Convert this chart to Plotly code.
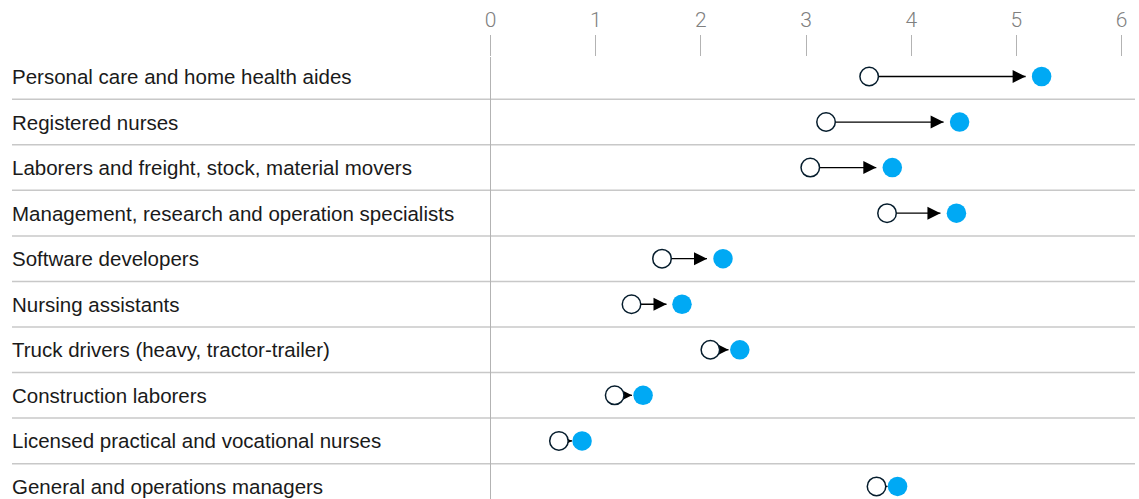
import plotly.graph_objects as go

categories = [
    "Personal care and home health aides",
    "Registered nurses",
    "Laborers and freight, stock, material movers",
    "Management, research and operation specialists",
    "Software developers",
    "Nursing assistants",
    "Truck drivers (heavy, tractor-trailer)",
    "Construction laborers",
    "Licensed practical and vocational nurses",
    "General and operations managers",
]
start_values = [3.60, 3.19, 3.04, 3.77, 1.63, 1.34, 2.09, 1.18, 0.65, 3.67]
end_values = [5.24, 4.46, 3.82, 4.43, 2.21, 1.82, 2.37, 1.45, 0.87, 3.87]
tick_values = [0, 1, 2, 3, 4, 5, 6]
tick_labels = ["0", "1", "2", "3", "4", "5", "6"]

W, H = 1139, 499
TOP = 57
DOM0 = 480
X_RANGE = [-0.1008, 6.166]
Y_RANGE = [9.276, -0.428]
K = (W - DOM0) / (X_RANGE[1] - X_RANGE[0])  # px per unit

rows = list(range(len(categories)))

# arrow geometry derived from the data
line_x, line_y, tip_x = [], [], []
for i, (s, e) in enumerate(zip(start_values, end_values)):
    sep_px = (e - s) * K
    gap_px = 10 + min(6, max(0, (sep_px - 23) * 0.2))
    tip = e - gap_px / K
    tip_x.append(tip)
    line_x += [s, tip, None]
    line_y += [i, i, None]

fig = go.Figure()
fig.add_trace(go.Scatter(x=line_x, y=line_y, mode="lines",
                         line=dict(color="#000000", width=1.3),
                         hoverinfo="skip", showlegend=False))
fig.add_trace(go.Scatter(x=tip_x, y=rows, mode="markers",
                         marker=dict(symbol="arrow-right", size=13, color="#000000",
                                     line=dict(width=0)),
                         hoverinfo="skip", showlegend=False))
fig.add_trace(go.Scatter(x=start_values, y=rows, mode="markers",
                         marker=dict(symbol="circle", size=18.5, color="#ffffff",
                                     line=dict(color="#051c2c", width=1.5)),
                         showlegend=False))
fig.add_trace(go.Scatter(x=end_values, y=rows, mode="markers",
                         marker=dict(symbol="circle", size=19.5, color="#00a9f4",
                                     line=dict(width=0)),
                         showlegend=False))

for i, cat in enumerate(categories):
    fig.add_annotation(x=10 / W, xref="paper", y=i, yref="y", text=cat,
                       xanchor="left", yanchor="middle", showarrow=False,
                       font=dict(family="Liberation Sans, Arial, sans-serif",
                                 size=20.5, color="#1a1a1a"))

for i in range(len(categories) - 1):
    fig.add_shape(type="line", xref="paper", x0=12 / W, x1=1135 / W,
                  yref="y", y0=i + 0.5, y1=i + 0.5,
                  line=dict(color="#c8c8c8", width=1.5), layer="below")

fig.update_layout(
    width=W, height=H,
    margin=dict(l=0, r=0, t=TOP, b=0),
    paper_bgcolor="#ffffff", plot_bgcolor="#ffffff",
    showlegend=False,
    xaxis=dict(domain=[DOM0 / W, 1], range=X_RANGE, side="top",
               tickmode="array", tickvals=tick_values, ticktext=tick_labels,
               ticks="outside", ticklen=21, tickwidth=1, tickcolor="#b3b3b3",
               tickfont=dict(family="Roboto, Liberation Sans, sans-serif",
                             size=21, color="#808080", weight=300),
               showgrid=False, showline=False,
               zeroline=True, zerolinecolor="#b3b3b3", zerolinewidth=1),
    yaxis=dict(range=Y_RANGE, showticklabels=False, showgrid=False,
               zeroline=False, showline=False, ticks=""),
)

fig.write_html("out.html", config={"displayModeBar": False},
               post_script="document.body.style.margin='0';document.body.style.padding='0';")
